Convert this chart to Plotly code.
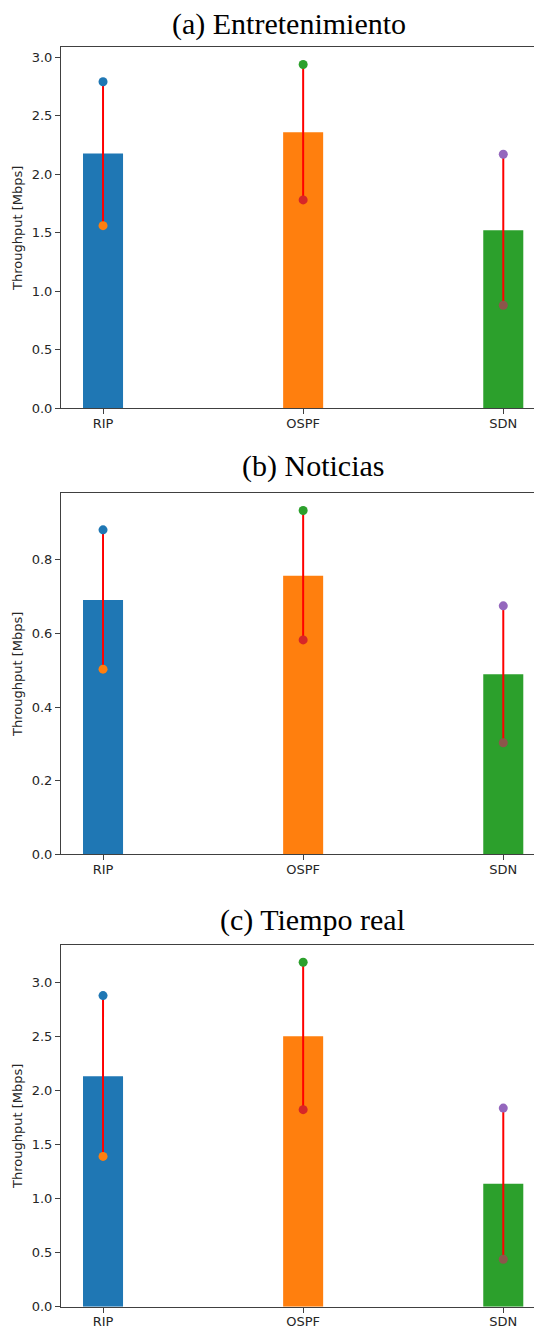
import plotly.graph_objects as go

# ---------------- data ----------------
categories = ["RIP", "OSPF", "SDN"]
panel_titles = ["(a) Entretenimiento", "(b) Noticias", "(c) Tiempo real"]

mean_a = [2.176, 2.359, 1.52]
max_a = [2.79, 2.937, 2.17]
min_a = [1.56, 1.78, 0.88]

mean_b = [0.691, 0.757, 0.489]
max_b = [0.8815, 0.934, 0.675]
min_b = [0.503, 0.5825, 0.303]

mean_c = [2.134, 2.505, 1.14]
max_c = [2.882, 3.191, 1.84]
min_c = [1.392, 1.825, 0.44]

y_dticks = [0.5, 0.2, 0.5]

# ---------------- styles ----------------
bar_colors = ["#1f77b4", "#ff7f0e", "#2ca02c"]
max_colors = ["#1f77b4", "#2ca02c", "#9467bd"]
min_colors = ["#ff7f0e", "#d62728", "#8c564b"]

OFF = 8  # page body margin of the browser
W, H = 542 - OFF, 1328 - OFF
# pixel boxes (top, bottom) of each panel in window coordinates
boxes = [(47.3, 408.3), (493.3, 854.3), (945.0, 1306.7)]
title_pos = [(289, 24), (313, 466), (312, 920)]
left_px = 61

panels = [(mean_a, max_a, min_a), (mean_b, max_b, min_b), (mean_c, max_c, min_c)]

fig = go.Figure()
layout = dict(
    width=W, height=H,
    margin=dict(l=0, r=0, t=0, b=0),
    plot_bgcolor="white", paper_bgcolor="white",
    showlegend=False,
    font=dict(family="DejaVu Sans", size=13, color="#262626"),
    annotations=[],
)

for i, (means, maxs, mins) in enumerate(panels):
    sfx = "" if i == 0 else str(i + 1)
    xa, ya = "x" + sfx, "y" + sfx
    fig.add_trace(go.Bar(x=categories, y=means, width=0.2,
                         marker=dict(color=bar_colors, line=dict(width=0)),
                         xaxis=xa, yaxis=ya, hoverinfo="skip"))
    lx, ly = [], []
    for c, lo, hi in zip(categories, mins, maxs):
        lx += [c, c, None]
        ly += [lo, hi, None]
    fig.add_trace(go.Scatter(x=lx, y=ly, mode="lines",
                             line=dict(color="red", width=2),
                             xaxis=xa, yaxis=ya, hoverinfo="skip"))
    fig.add_trace(go.Scatter(x=categories, y=maxs, mode="markers",
                             marker=dict(color=max_colors, size=9, line=dict(width=0)),
                             xaxis=xa, yaxis=ya))
    fig.add_trace(go.Scatter(x=categories, y=mins, mode="markers",
                             marker=dict(color=min_colors, size=9, line=dict(width=0)),
                             xaxis=xa, yaxis=ya))

    top, bot = boxes[i]
    top -= OFF
    bot -= OFF
    ymax = 1.05 * max(maxs)
    layout["xaxis" + sfx] = dict(
        domain=[(left_px - OFF) / W, 1], anchor=ya, type="category",
        range=[-0.21, (542 - 103.3) / 200.0],
        showline=True, linecolor="#404040", linewidth=1, mirror=True,
        ticks="outside", ticklen=5, tickcolor="#404040", tickwidth=1,
        ticklabelstandoff=-2,
        showgrid=False, zeroline=False, automargin=False,
        tickfont=dict(family="DejaVu Sans", size=13, color="#262626"),
    )
    layout["yaxis" + sfx] = dict(
        domain=[1 - bot / H, 1 - top / H], anchor=xa,
        range=[0, ymax], dtick=y_dticks[i], tick0=0, tickformat=".1f",
        showline=True, linecolor="#404040", linewidth=1,
        ticks="outside", ticklen=5, tickcolor="#404040", tickwidth=1,
        showgrid=False, zeroline=False, automargin=False,
        tickfont=dict(family="DejaVu Sans", size=13, color="#262626"),
        title=dict(text="Throughput [Mbps]", standoff=6,
                   font=dict(family="DejaVu Sans", size=13, color="#262626")),
    )
    tx, ty = title_pos[i]
    layout["annotations"].append(dict(
        text=panel_titles[i], x=(tx - OFF) / W, y=1 - (ty - OFF) / H,
        xref="paper", yref="paper",
        xanchor="center", yanchor="middle", showarrow=False,
        font=dict(family="Liberation Serif", size=30, color="black"),
    ))

fig.update_layout(**layout)
fig.write_html("out.html")
